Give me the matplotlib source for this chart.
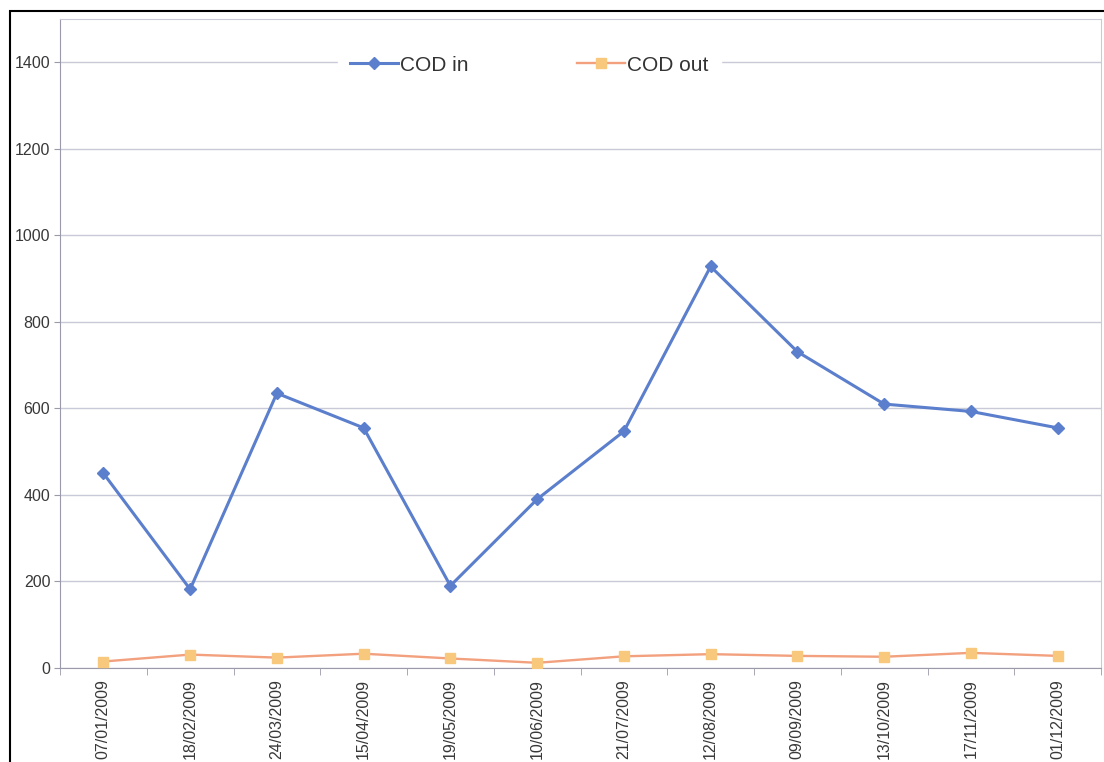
import matplotlib.pyplot as plt
import matplotlib.patches as mpatches

plt.rcParams['font.family'] = ['Liberation Sans', 'DejaVu Sans']

dates = ['07/01/2009', '18/02/2009', '24/03/2009', '15/04/2009', '19/05/2009', '10/06/2009',
         '21/07/2009', '12/08/2009', '09/09/2009', '13/10/2009', '17/11/2009', '01/12/2009']
cod_in = [450, 182, 635, 555, 190, 390, 547, 928, 731, 610, 593, 555]
cod_out = [15, 31, 24, 33, 22, 12, 27, 32, 28, 26, 35, 28]
y_ticks = [0, 200, 400, 600, 800, 1000, 1200, 1400]

fig = plt.figure(figsize=(11.04, 7.62), dpi=100)
ax = fig.add_axes([60 / 1104, 1 - 668 / 762, 1041 / 1104, 649 / 762])

x = list(range(len(dates)))
ax.plot(x, cod_in, color='#5B7FCC', lw=2.2, marker='D', ms=6,
        mfc='#5B7FCC', mec='#5B7FCC', label='COD in', zorder=3)
ax.plot(x, cod_out, color='#F2A07E', lw=1.7, marker='s', ms=7,
        mfc='#F8C97C', mec='#F8C97C', label='COD out', zorder=3)

ax.set_xlim(-0.5, len(dates) - 0.5)
ax.set_ylim(0, 1500)
ax.set_yticks(y_ticks)
ax.set_xticks(x)
ax.set_xticklabels(dates, rotation=90, fontsize=11.5, color='#383838')
ax.set_xticks([i + 0.5 for i in range(-1, len(dates))], minor=True)
ax.tick_params(axis='x', which='major', length=0, pad=8)
ax.tick_params(axis='x', which='minor', length=5, color='#9A9AAA', direction='out')
ax.tick_params(axis='y', length=4, color='#9A9AAA', labelsize=11.5, labelcolor='#383838', pad=3)

ax.grid(axis='y', color='#C9CAD8', lw=1.0)
ax.set_axisbelow(True)
for side in ['left', 'bottom']:
    ax.spines[side].set_color('#9A9AAA')
for side in ['top', 'right']:
    ax.spines[side].set_color('#C9CAD8')

leg = ax.legend(loc='center', bbox_to_anchor=(0.451, 0.929), ncol=2, fontsize=15,
                frameon=True, framealpha=1, edgecolor='white', handlelength=2.3,
                handletextpad=0.1, columnspacing=5.2, borderpad=0.6, borderaxespad=0)
for t in leg.get_texts():
    t.set_color('#333333')

# black outer frame around the figure
fig.patches.append(mpatches.Rectangle((10 / 1104, -0.05), 1.2, 1 - 11 / 762 + 0.05,
                                      transform=fig.transFigure, fill=False,
                                      edgecolor='black', lw=1.5))

fig.savefig('out.png', dpi=100)
